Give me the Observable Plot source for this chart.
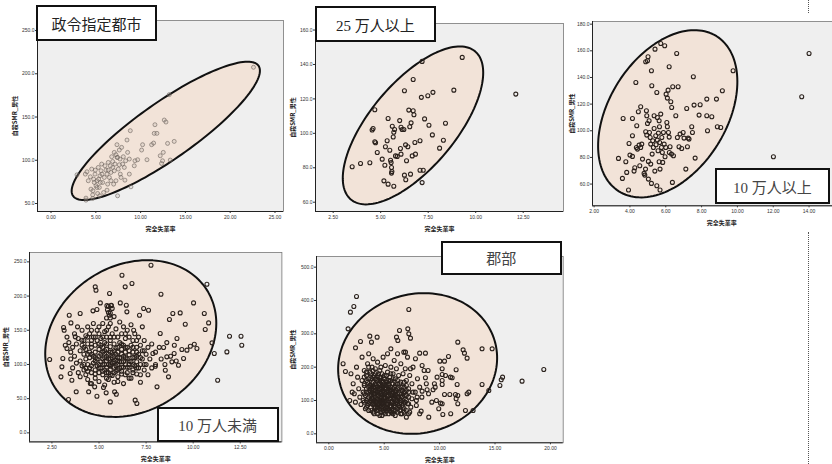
<!DOCTYPE html>
<html>
<head>
<meta charset="utf-8">
<script src="https://cdn.jsdelivr.net/npm/d3@7"></script>
<script src="https://cdn.jsdelivr.net/npm/@observablehq/plot@0.6"></script>
<style>
  body { margin: 0; background: #fff; }
  #root { position: relative; width: 832px; height: 464px; overflow: hidden; background: #fff; }
  .panel { position: absolute; }
  .panel svg { overflow: visible; max-width: none !important; }
  .tag { position: absolute; box-sizing: border-box; border: 2px solid #111; background: #fff;
         display: flex; align-items: center; justify-content: center;
         font-family: "Liberation Serif", "Noto Sans CJK JP", serif; font-size: 15px; color: #222; }
  .dotv { position: absolute; width: 0; border-left: 1px dotted #555; }
</style>
</head>
<body>
<div id="root"></div>
<script>
// ---------------- DATA ----------------
const panelTitles = ["政令指定都市", "25 万人以上", "10 万人以上", "10 万人未満", "郡部"];
const xAxisTitle = "完全失業率";
const yAxisTitle = "自殺SMR_男性";

// 政令指定都市
const seireiPts = [[2.9,83.2],[3.9,56.2],[3.9,53.9],[3.83,84],[4.01,86.7],[4.46,66.6],[4.65,60],[4.65,55.8],[4.83,74.3],[4.91,84],[5.02,70.5],[5.13,76.3],[5.2,61.6],[5.28,91.7],[5.39,68.5],[5.46,82],[5.58,87.8],[5.65,95.6],[5.76,74.3],[5.87,62.7],[5.95,80.1],[6.13,88.6],[6.32,72.4],[6.39,97.5],[6.51,80.1],[6.69,85.9],[6.77,104.1],[6.88,91.7],[6.99,72.4],[7.06,109.1],[7.14,95.6],[7.25,76.3],[7.36,118],[7.36,103.3],[7.43,58.9],[7.51,89.8],[7.62,111.8],[7.7,101.4],[7.73,84],[7.81,80.1],[7.88,114.9],[7.99,95.6],[8.07,104.1],[8.18,91.7],[8.25,77],[8.33,99.4],[8.48,123.4],[8.55,109.1],[8.74,101.4],[8.85,134.2],[8.92,69.3],[8.74,84],[9.29,93.6],[9.37,99.4],[9.67,100.6],[10.11,111.8],[10.22,118],[10.71,100.6],[11.23,118],[11.45,119.9],[11.52,131.1],[11.6,141.1],[11.82,131.1],[12.19,105.2],[12.34,96.3],[12.45,99.4],[12.53,109.1],[12.64,146.5],[12.83,144.2],[13.01,119.5],[13.31,100.2],[13.2,175.9],[13.75,121.8],[22.6,207.5],[4.16,76.3],[4.39,80.9],[4.54,89.8],[4.76,78.2],[4.94,88.6],[5.13,68.5],[5.32,78.2],[5.5,74.3],[5.69,84],[6.02,93.6],[6.25,84],[6.39,88.6],[6.62,93.6],[6.88,98.6],[7.06,87.8],[7.25,106.4],[7.43,103.3],[7.62,94.8],[6.69,76.3],[6.25,65.4],[4.68,64.7],[5.43,58.9]];
const seireiEllipse = [12.81, 134.0, 10.35, 75.3, 1.814, -26.9]; // cx, cy, u, v (conjugate radii)
const seireiXTicks = [0, 5, 10, 15, 20, 25];
const seireiYTicks = [50, 100, 150, 200, 250];

// 25万人以上
const over25Pts = [[3.5,80.6],[3.94,82.5],[4.43,82.9],[4.69,113.7],[4.55,101.9],[4.6,102.8],[4.69,95.1],[4.73,94.5],[4.82,88.9],[5.08,85],[5.22,81.5],[5.39,108.6],[5.17,72.4],[5.39,70.5],[5.69,69.3],[5.34,95.7],[5.25,92.2],[5.48,90.2],[5.52,84.4],[5.55,83],[5.57,80.2],[5.59,77.8],[5.57,76.9],[5.61,104.1],[5.69,100.6],[5.66,97.9],[5.78,86.9],[5.87,86.6],[5.73,102.2],[6.0,107.4],[6.07,103.5],[6.13,102.2],[6.22,102.2],[6.04,91.2],[6.07,87.9],[6.25,124.7],[6.31,93.3],[6.43,92.2],[6.36,84.1],[6.25,75.7],[6.32,73],[6.48,113.5],[6.53,103.8],[6.6,106.1],[6.57,76.3],[6.66,86.9],[6.83,87.9],[6.71,131.3],[6.71,113.1],[6.75,110.8],[6.8,94.7],[7.07,95.7],[7.07,78.6],[7.24,78.6],[7.18,141.8],[7.14,120.9],[7.18,71.4],[7.31,108.4],[7.54,104.7],[7.48,121.8],[7.75,123.8],[7.72,99.1],[8.1,91.4],[8.3,96],[8.41,105.9],[8.85,125.1],[9.29,144.1],[12.11,122.8]];
const over25Ellipse = [6.70, 104.6, 3.27, 43.0, 1.72, -15.95];
const over25XTicks = [2.5, 5, 7.5, 10, 12.5];
const over25YTicks = [60, 80, 100, 120, 140, 160];

// 10万人以上
const over10Pts = [[3.36,79.25],[3.58,64.25],[3.62,109.25],[3.77,76.75],[3.82,68.75],[3.92,55.5],[3.95,90.5],[4.0,81.75],[4.14,96.25],[4.14,109.25],[4.14,80.75],[4.23,69.75],[4.27,72.25],[4.33,136.25],[4.36,87.5],[4.38,103.75],[4.42,86.25],[4.47,114.25],[4.51,89.25],[4.55,73.75],[4.6,118],[4.6,87.5],[4.66,90],[4.7,78.75],[4.79,68],[4.83,66.75],[4.87,71.25],[4.88,99.25],[4.88,151.75],[4.92,115],[4.94,111.25],[4.94,96.75],[4.98,152.5],[4.98,105.5],[5.01,155.5],[5.03,77],[5.03,63.75],[5.07,107.5],[5.09,98.75],[5.13,95],[5.16,90],[5.16,75],[5.2,145],[5.2,60.5],[5.22,133.75],[5.24,82.5],[5.27,92.5],[5.31,87.5],[5.35,111.25],[5.35,101.75],[5.39,69.75],[5.4,161.25],[5.44,96.25],[5.46,89.5],[5.5,58.75],[5.5,128.75],[5.53,93],[5.53,110],[5.57,85],[5.59,98.25],[5.63,76.75],[5.63,107.5],[5.65,103],[5.66,91.25],[5.68,71.25],[5.68,55.5],[5.72,165.5],[5.72,112.5],[5.76,87.5],[5.78,95],[5.81,83.75],[5.83,76.25],[5.87,98.75],[5.91,90],[5.94,163.75],[5.96,80.5],[6.0,87.5],[6.02,127.5],[6.06,106.25],[6.09,124.5],[6.09,103],[6.13,130.5],[6.15,98.75],[6.19,148],[6.19,95.25],[6.2,83.75],[6.24,88],[6.28,121.75],[6.32,82.5],[6.33,117.5],[6.37,61.25],[6.39,133],[6.43,81.25],[6.56,111.25],[6.61,158],[6.65,95],[6.69,133],[6.74,88],[6.8,97.5],[6.89,86.75],[6.97,98.75],[7.02,94.5],[7.12,71.25],[7.17,116.75],[7.21,88],[7.25,94.5],[7.3,93.75],[7.45,103],[7.49,98.75],[7.54,140.5],[7.58,119.25],[7.64,79.5],[7.86,111.75],[7.92,119.5],[8.29,111.25],[8.29,123.75],[8.33,100],[8.57,110.5],[8.83,123.75],[8.88,103],[9.07,102.5],[9.16,130],[9.76,145],[12.01,80.5],[13.59,125.5],[14.0,158]];
const over10Ellipse = [6.11, 112.75, 2.727, 58.2, 2.77, -23.45];
const over10XTicks = [2, 4, 6, 8, 10, 12, 14];
const over10YTicks = [60, 80, 100, 120, 140, 160, 180];

// 10万人未満
const under10Pts = [[2.38,107.2],[2.98,81.9],[3.03,96.5],[3.08,108.7],[3.12,154],[3.15,150.1],[3.21,128.2],[3.3,123.3],[3.38,48.7],[3.42,172],[3.47,86.7],[3.51,160.8],[3.56,77],[3.74,140.4],[3.79,60],[3.86,155],[4.0,174.5],[4.09,135.5],[4.32,94.1],[4.45,60],[4.54,72.1],[4.68,178.4],[4.77,67.3],[4.8,213.5],[4.84,208.6],[4.89,180.3],[4.89,53.6],[5.07,190],[5.24,66.3],[5.38,58.5],[5.56,203.7],[5.6,45.3],[5.65,186.6],[5.83,60],[5.92,56.5],[6.13,190],[6.22,230.5],[6.39,213.5],[6.45,186.6],[6.48,176.9],[6.75,218.3],[6.84,150.1],[6.92,47.8],[7.01,42.9],[7.15,172],[7.37,181.8],[7.63,179.3],[7.76,245.1],[7.86,116],[7.99,97.5],[8.08,67.3],[8.25,145.2],[8.29,202.7],[8.43,124.8],[8.52,91.6],[8.6,111.1],[8.69,81.9],[8.74,165.7],[8.87,103.8],[8.92,174.5],[8.99,116],[9.14,137.9],[9.22,98.9],[9.31,175.4],[9.4,121.8],[9.49,108.7],[9.58,158.9],[9.67,120.9],[9.85,126.7],[10.02,190],[10.06,129.6],[10.2,123.3],[10.59,174.5],[10.64,151.1],[10.73,217.3],[10.82,160.8],[11.0,131.6],[11.12,116],[11.3,77],[11.79,118.4],[11.93,141.3],[12.54,141.3],[12.58,128.2],
[3.3,140],[3.4,132],[3.5,118],[3.5,108],[3.6,125],[3.6,95],[3.7,145],[3.7,112],[3.8,130],[3.8,102],[3.9,88],[3.9,138],[4.0,120],[4.0,105],[4.0,82],[4.1,150],[4.1,128],[4.1,98],[4.2,135],[4.2,115],[4.2,92],[4.3,142],[4.3,122],[4.3,108],[4.3,85],[4.4,155],[4.4,130],[4.4,100],[4.4,78],[4.5,145],[4.5,118],[4.5,95],[4.5,110],[4.6,135],[4.6,125],[4.6,88],[4.6,72],[4.7,160],[4.7,140],[4.7,112],[4.7,102],[4.8,128],[4.8,118],[4.8,92],[4.8,80],[4.9,150],[4.9,135],[4.9,108],[4.9,98],[5.0,145],[5.0,122],[5.0,112],[5.0,88],[5.0,75],[5.1,138],[5.1,128],[5.1,104],[5.1,95],[5.2,160],[5.2,118],[5.2,100],[5.2,85],[5.3,148],[5.3,132],[5.3,110],[5.3,92],[5.3,70],[5.4,168],[5.4,140],[5.4,122],[5.4,105],[5.4,96],[5.5,185],[5.5,155],[5.5,115],[5.5,100],[5.5,88],[5.5,78],[5.6,175],[5.6,135],[5.6,126],[5.6,108],[5.6,92],[5.7,182],[5.7,145],[5.7,118],[5.7,102],[5.7,84],[5.8,170],[5.8,130],[5.8,112],[5.8,96],[5.8,74],[5.9,152],[5.9,124],[5.9,106],[5.9,90],[6.0,140],[6.0,118],[6.0,100],[6.0,82],[6.1,162],[6.1,132],[6.1,110],[6.1,94],[6.2,145],[6.2,122],[6.2,104],[6.2,86],[6.3,155],[6.3,128],[6.3,112],[6.3,96],[6.3,72],[6.4,138],[6.4,118],[6.4,100],[6.5,150],[6.5,125],[6.5,108],[6.5,88],[6.6,140],[6.6,114],[6.6,96],[6.7,158],[6.7,128],[6.7,104],[6.7,80],[6.8,135],[6.8,118],[6.8,92],[6.9,145],[6.9,110],[6.9,98],[7.0,125],[7.0,104],[7.0,86],[7.1,140],[7.1,115],[7.1,95],[7.2,128],[7.2,100],[7.2,74],[7.3,155],[7.3,120],[7.3,108],[7.4,135],[7.4,92],[7.5,115],[7.5,100],[7.6,125],[7.6,85],[7.7,108],[7.8,130],[7.8,95],[8.0,118],[8.0,100],[8.2,125],[8.3,108],[8.5,100],[8.6,132],[8.8,112],[9.0,128],[9.1,105],
[4.6,115],[4.8,105],[5.0,100],[5.1,115],[5.2,108],[5.3,120],[5.4,88],[5.5,108],[5.6,98],[5.7,110],[5.8,104],[5.9,98],[6.0,110],[6.0,92],[6.1,104],[6.2,96],[6.3,104],[6.4,110],[6.5,96],[6.6,105],[5.9,115],[5.6,118],[5.3,100],[6.8,100],[7.0,112],
[4.2,100],[4.2,125],[4.4,90],[4.4,115],[4.4,140],[4.6,98],[4.6,130],[4.6,150],[4.8,86],[4.8,110],[4.8,140],[5.0,95],[5.0,130],[5.0,155],[5.2,90],[5.2,125],[5.2,140],[5.4,80],[5.4,112],[5.4,130],[5.4,150],[5.6,85],[5.6,100],[5.6,140],[5.6,160],[5.8,88],[5.8,120],[5.8,140],[6.0,75],[6.0,105],[6.0,125],[6.2,90],[6.2,115],[6.2,130],[6.4,85],[6.4,125],[6.4,145],[6.6,80],[6.6,100],[6.6,120],[6.8,88],[6.8,110],[6.8,125],[7.0,95],[7.0,118],[7.0,135],[7.2,85],[7.2,110],[7.4,100],[7.4,120],[5.45,180],[5.5,176],[5.55,172],[5.6,168],[5.42,186],[5.65,186]];
const under10Ellipse = [6.686, 137.9, 4.03, 71.5, 2.094, -89.5];
const under10XTicks = [2.5, 5, 7.5, 10, 12.5];
const under10YTicks = [0, 50, 100, 150, 200, 250];

// 郡部
const gunbuPts = [[1.74,315],[1.95,365],[2.26,382],[2.5,412],[1.29,210],[1.5,187],[1.89,100],[2.11,125],[2.41,258],[2.86,277],[3.7,293],[3.85,275],[4.36,290],[6.38,310],[7.22,373],[7.13,315],[7.22,300],[7.37,287],[6.11,290],[6.23,280],[6.77,245],[6.92,245],[7.37,195],[7.82,225],[8.2,242],[8.72,242],[8.96,190],[10.02,218],[10.44,218],[10.8,232],[11.64,275],[12.12,252],[12.24,242],[12.48,227],[11.49,192],[10.23,195],[10.23,178],[10.53,175],[10.98,170],[11.13,168],[9.77,170],[9.53,150],[10.23,160],[10.23,148],[11.58,148],[11.64,115],[11.43,118],[10.92,118],[10.44,118],[9.41,132],[8.87,132],[9.71,100],[10.08,92],[10.23,90],[9.92,75],[11.0,60],[10.29,58],[11.49,105],[11.64,90],[12.33,70],[12.48,120],[12.63,125],[13.02,70],[13.83,255],[13.83,148],[14.44,130],[14.74,255],[15.44,145],[15.56,162],[15.68,170],[17.44,158],[19.4,193],[9.02,50],[8.2,60],[8.33,68],[7.97,110],[8.42,128],[8.72,168],[8.42,205],
[2.0,180],[2.2,150],[2.3,120],[2.4,95],[2.5,200],[2.6,170],[2.7,135],[2.8,110],[2.9,88],[3.0,230],[3.0,160],[3.1,125],[3.1,100],[3.2,190],[3.2,145],[3.3,75],[3.3,115],[3.4,175],[3.4,135],[3.5,210],[3.5,155],[3.5,105],[3.5,85],[3.6,240],[3.6,125],[3.7,185],[3.7,145],[3.7,95],[3.8,165],[3.8,115],[3.8,70],[3.9,200],[3.9,135],[3.9,105],[4.0,225],[4.0,155],[4.0,120],[4.0,88],[4.1,175],[4.1,140],[4.1,100],[4.1,60],[4.2,195],[4.2,130],[4.2,110],[4.2,80],[4.3,160],[4.3,145],[4.3,95],[4.4,215],[4.4,125],[4.4,105],[4.4,70],[4.5,180],[4.5,150],[4.5,115],[4.5,90],[4.6,135],[4.6,100],[4.6,55],[4.7,200],[4.7,165],[4.7,120],[4.7,80],[4.8,145],[4.8,110],[4.8,92],[4.9,230],[4.9,130],[4.9,70],[5.0,175],[5.0,150],[5.0,118],[5.0,98],[5.0,85],[5.1,205],[5.1,135],[5.1,108],[5.1,60],[5.2,160],[5.2,125],[5.2,90],[5.3,240],[5.3,185],[5.3,112],[5.3,75],[5.4,145],[5.4,100],[5.5,170],[5.5,130],[5.5,82],[5.6,255],[5.6,200],[5.6,115],[5.6,95],[5.7,150],[5.7,65],[5.8,180],[5.8,125],[5.8,105],[5.9,220],[5.9,140],[5.9,85],[6.0,165],[6.0,115],[6.0,55],[6.1,195],[6.1,130],[6.1,95],[6.2,240],[6.2,150],[6.2,75],[6.3,175],[6.3,110],[6.4,135],[6.4,90],[6.5,210],[6.5,155],[6.5,60],[6.6,120],[6.7,180],[6.7,100],[6.8,140],[6.8,75],[6.9,195],[7.0,160],[7.0,115],[7.0,50],[7.1,230],[7.1,90],[7.2,135],[7.3,175],[7.3,65],[7.5,150],[7.5,105],[7.6,200],[7.8,125],[7.9,85],[8.0,165],[8.2,140],[8.4,110],[8.6,190],[8.8,150],[9.0,120],[9.3,95],[9.6,140],
[3.6,110],[3.7,130],[3.8,90],[3.9,150],[4.0,105],[4.0,140],[4.1,80],[4.1,120],[4.2,95],[4.2,165],[4.3,125],[4.3,70],[4.4,140],[4.4,88],[4.5,100],[4.5,130],[4.6,75],[4.6,160],[4.7,105],[4.7,140],[4.8,65],[4.8,125],[4.9,95],[4.9,155],[5.0,110],[5.0,135],[5.1,75],[5.1,120],[5.2,100],[5.2,145],[5.3,88],[5.3,130],[5.4,115],[5.4,160],[5.5,70],[5.5,105],[5.6,140],[5.6,80],[5.7,120],[5.7,95],[5.8,150],[5.8,70],[5.9,110],[6.0,130],[6.0,90],[6.1,115],[6.2,100],[6.2,135],[6.3,85],[6.4,120],[6.5,100],[6.6,140],[6.7,80],[6.8,115],[6.9,95],[7.0,130],[7.2,110],[7.4,80],[7.6,125],[7.9,100],
[3.2,95],[3.2,120],[3.2,150],[3.2,170],[3.4,80],[3.4,100],[3.4,125],[3.4,160],[3.4,185],[3.6,70],[3.6,90],[3.6,140],[3.6,165],[3.6,200],[3.8,100],[3.8,125],[3.8,145],[3.8,180],[4.0,65],[4.0,95],[4.0,110],[4.0,130],[4.0,170],[4.0,190],[4.2,75],[4.2,120],[4.2,140],[4.2,150],[4.2,180],[4.4,60],[4.4,80],[4.4,95],[4.4,115],[4.4,160],[4.4,175],[4.6,85],[4.6,110],[4.6,125],[4.6,145],[4.6,170],[4.6,190],[4.8,55],[4.8,80],[4.8,100],[4.8,135],[4.8,160],[4.8,180],[5.0,65],[5.0,90],[5.0,105],[5.0,125],[5.0,145],[5.0,165],[5.2,70],[5.2,80],[5.2,115],[5.2,135],[5.2,155],[5.2,175],[5.4,60],[5.4,75],[5.4,95],[5.4,125],[5.4,135],[5.4,150],[5.6,65],[5.6,85],[5.6,105],[5.6,130],[5.6,160],[5.6,180],[5.8,60],[5.8,90],[5.8,115],[5.8,135],[5.8,165],[6.0,70],[6.0,80],[6.0,100],[6.0,125],[6.0,145],[6.2,65],[6.2,90],[6.2,110],[6.2,120],[6.2,160],[6.4,70],[6.4,80],[6.4,105],[6.4,150],[6.6,60],[6.6,85],[6.6,110],[6.6,130],[6.8,65],[6.8,95],[6.8,125],[6.8,155],[7.0,70],[7.0,100],[7.0,145],[7.2,60],[7.2,90],[7.2,125]];
const gunbuEllipse = [8.015, 211, 6.95, 68.4, 1.778, -199.7];
const gunbuXTicks = [0, 5, 10, 15, 20];
const gunbuYTicks = [0, 100, 200, 300, 400, 500];

// ---------------- LAYOUT ----------------
const M = {left: 30, right: 5, top: 5, bottom: 28};
const layout = [
  {pts: seireiPts, ell: seireiEllipse, xt: seireiXTicks, yt: seireiYTicks, xd: [-1.51, 25.95], yd: [40.75, 261.6],
   left: 7, top: 15, w: 281, h: 224, ytdx: -22, faded: true,
   tag: {left: 36, top: 5, w: 121, h: 36}},
  {pts: over25Pts, ell: over25Ellipse, xt: over25XTicks, yt: over25YTicks, xd: [1.57, 14.62], yd: [54.6, 163.8],
   left: 285, top: 17.7, w: 283, h: 221, ytdx: -22,
   tag: {left: 315, top: 6, w: 121, h: 36}},
  {pts: over10Pts, ell: over10Ellipse, xt: over10XTicks, yt: over10YTicks, xd: [1.91, 16.33], yd: [43.7, 182],
   left: 561.7, top: 15.7, w: 293.3, h: 217.3, ytdx: -20,
   tag: {left: 715, top: 168, w: 115, h: 36}},
  {pts: under10Pts, ell: under10Ellipse, xt: under10XTicks, yt: under10YTicks, xd: [1.31, 14.71], yd: [-13.2, 263.7],
   left: -0.7, top: 247.3, w: 287.4, h: 222.4, ytdx: -23.5,
   tag: {left: 157, top: 406.5, w: 121.5, h: 35.5}},
  {pts: gunbuPts, ell: gunbuEllipse, xt: gunbuXTicks, yt: gunbuYTicks, xd: [-1.11, 21.15], yd: [-26.9, 532],
   left: 286, top: 251, w: 281.7, h: 219.3, ytdx: -23,
   tag: {left: 440.5, top: 240.5, w: 121.5, h: 34}}
];

function ellipsePath(e) {
  const [cx, cy, ux, uy, vx, vy] = e;
  return d3.range(0, 145).map(i => {
    const t = i / 144 * 2 * Math.PI;
    return {x: cx + ux * Math.cos(t) + vx * Math.sin(t), y: cy + uy * Math.cos(t) + vy * Math.sin(t)};
  });
}

const root = document.getElementById("root");

// dotted separator lines
[[0, 13], [232, 464]].forEach(([a, b]) => {
  const d = document.createElement("div");
  d.className = "dotv";
  d.style.left = "807.5px"; d.style.top = a + "px"; d.style.height = (b - a) + "px";
  root.appendChild(d);
});

layout.forEach((p, i) => {
  const chart = Plot.plot({
    width: p.w, height: p.h,
    marginLeft: M.left, marginRight: M.right, marginTop: M.top, marginBottom: M.bottom,
    style: {fontFamily: "'Liberation Sans', Arial, sans-serif", fontSize: "5px", color: "#333", background: "transparent", overflow: "visible", maxWidth: "none"},
    x: {domain: p.xd, ticks: p.xt, tickFormat: d => d.toFixed(2), tickSize: 2, tickPadding: 2, label: null},
    y: {domain: p.yd, ticks: p.yt, tickFormat: d => d.toFixed(1), tickSize: 2, tickPadding: 1, label: null},
    marks: [
      Plot.frame({fill: "#efefef", stroke: "#777", strokeWidth: 0.8}),
      Plot.ruleX([p.xd[0]], {stroke: "#222", strokeWidth: 1}),
      Plot.ruleY([p.yd[0]], {stroke: "#222", strokeWidth: 1}),
      Plot.line(ellipsePath(p.ell), {x: "x", y: "y", fill: "#f2e3d8", stroke: "#111", strokeWidth: 2}),
      Plot.dot(p.pts, {x: d => d[0], y: d => d[1], r: 2,
        stroke: p.faded ? "#5f5650" : "#2a211c", strokeOpacity: p.faded ? 0.6 : 1,
        fill: p.faded ? "#b8afa8" : "none", fillOpacity: p.faded ? 0.25 : 1, strokeWidth: p.faded ? 0.9 : 1.1}),
      Plot.text([xAxisTitle], {text: d => d, frameAnchor: "bottom", dy: 17.5, lineAnchor: "middle",
        fontWeight: "bold", fontSize: 6, fontFamily: "'Noto Sans CJK JP', sans-serif", fill: "#222"}),
      Plot.text([yAxisTitle], {text: d => d, frameAnchor: "left", dx: p.ytdx, rotate: -90, textAnchor: "middle", lineAnchor: "middle",
        fontWeight: "bold", fontSize: 6, fontFamily: "'Noto Sans CJK JP', sans-serif", fill: "#222"})
    ]
  });
  chart.style.maxWidth = "none";
  const holder = document.createElement("div");
  holder.className = "panel";
  holder.style.left = p.left + "px";
  holder.style.top = p.top + "px";
  holder.style.width = p.w + "px";
  holder.style.height = p.h + "px";
  holder.appendChild(chart);
  root.appendChild(holder);
});

layout.forEach((p, i) => {
  const t = document.createElement("div");
  t.className = "tag";
  t.style.left = p.tag.left + "px"; t.style.top = p.tag.top + "px";
  t.style.width = p.tag.w + "px"; t.style.height = p.tag.h + "px";
  if (i >= 2) t.style.color = "#444";
  t.textContent = panelTitles[i];
  root.appendChild(t);
});
</script>
</body>
</html>
